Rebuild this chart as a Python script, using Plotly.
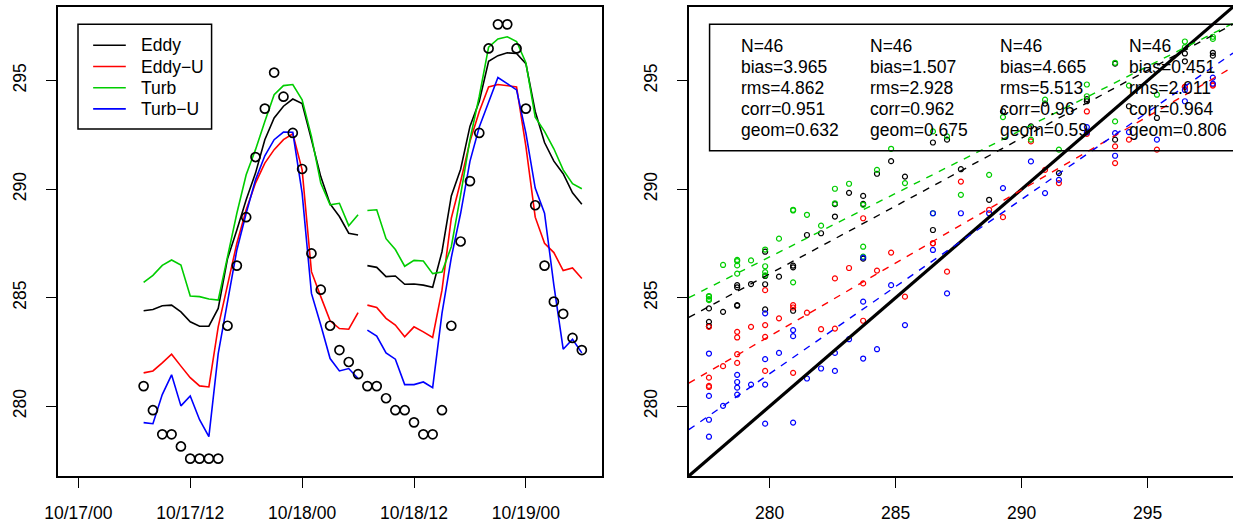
import numpy as np
import plotly.graph_objects as go
from datetime import datetime, timedelta

W, H = 1233, 525
FONT = "Liberation Sans"
FS = 17.5

# ---------------- data ----------------
start = datetime(2000, 10, 17, 7)
times = [start + timedelta(hours=h) for h in range(48)]
gap_index = 24  # model lines break between 10/18 06:00 and 07:00

obs = [280.93, 279.82, 278.71, 278.71, 278.15, 277.59, 277.59, 277.59, 277.59, 283.71,
       286.48, 288.71, 291.48, 293.71, 295.37, 294.26, 292.59, 290.93, 287.04, 285.37,
       283.71, 282.59, 282.04, 281.48, 280.93, 280.93, 280.37, 279.82, 279.82, 279.26,
       278.71, 278.71, 279.82, 283.71, 287.59, 290.37, 292.59, 296.48, 297.59, 297.59,
       296.48, 293.71, 289.26, 286.48, 284.82, 284.26, 283.15, 282.59]

eddy = [284.40, 284.46, 284.63, 284.66, 284.35, 283.89, 283.69, 283.69, 284.51, 286.80,
        288.12, 289.51, 290.74, 292.28, 293.28, 293.82, 294.15, 293.94, 292.28, 290.58,
        289.32, 288.74, 287.97, 287.89, 286.48, 286.40, 285.97, 286.00, 285.62, 285.63,
        285.58, 285.48, 287.12, 289.69, 290.92, 292.89, 294.05, 295.89, 296.15, 296.28,
        296.25, 295.78, 293.58, 292.15, 291.29, 290.71, 289.83, 289.31]

eddy_u = [281.54, 281.63, 282.00, 282.40, 281.85, 281.32, 280.94, 280.89, 283.66, 285.66,
          287.51, 289.05, 290.28, 291.20, 291.82, 292.28, 292.55, 290.89, 286.20, 285.05,
          283.94, 283.58, 283.55, 284.31, 284.66, 284.55, 284.05, 283.74, 283.20, 283.66,
          283.43, 283.17, 285.35, 288.66, 290.35, 292.20, 293.58, 294.71, 294.82, 294.77,
          294.71, 291.97, 288.71, 287.51, 287.08, 286.25, 286.37, 285.89]

turb = [285.71, 286.03, 286.49, 286.74, 286.51, 285.08, 285.05, 284.94, 284.89, 286.89,
        288.89, 290.66, 291.82, 293.12, 294.35, 294.77, 294.82, 294.12, 292.43, 290.28,
        289.28, 289.35, 288.32, 288.82, 289.02, 289.05, 287.72, 287.22, 286.45, 286.72,
        286.69, 286.11, 286.18, 287.35, 289.74, 292.28, 294.28, 296.54, 296.92, 297.02,
        296.80, 295.82, 293.32, 292.66, 291.86, 290.89, 290.25, 290.02]

turb_u = [279.25, 279.20, 280.54, 281.45, 280.02, 280.48, 279.38, 278.60, 282.43, 284.82,
          287.20, 288.89, 290.43, 291.54, 292.28, 292.63, 292.62, 289.82, 285.20, 283.74,
          282.20, 281.63, 281.74, 281.28, 283.51, 283.23, 282.46, 282.17, 281.00, 281.00,
          281.12, 280.86, 284.28, 286.85, 288.89, 291.28, 292.86, 294.05, 295.14, 294.86,
          294.57, 292.58, 290.05, 288.89, 285.58, 282.63, 283.09, 282.46]

series_names = ["Eddy", "Eddy\u2212U", "Turb", "Turb\u2212U"]
series_values = [eddy, eddy_u, turb, turb_u]
series_colors = ["#000000", "#FF0000", "#00CD00", "#0000FF"]

# dashed fit lines (model = intercept + slope * obs)
fit_intercept = [111.10, 94.51, 123.08, 56.66]
fit_slope = [0.625, 0.674, 0.585, 0.803]

stat_N = ["46", "46", "46", "46"]
stat_bias = ["3.965", "1.507", "4.665", "0.451"]
stat_rms = ["4.862", "2.928", "5.513", "2.011"]
stat_corr = ["0.951", "0.962", "0.96", "0.964"]
stat_geom = ["0.632", "0.675", "0.59", "0.806"]

time_tick_vals = [datetime(2000, 10, 17, 0), datetime(2000, 10, 17, 12), datetime(2000, 10, 18, 0),
                  datetime(2000, 10, 18, 12), datetime(2000, 10, 19, 0)]
time_tick_text = ["10/17/00", "10/17/12", "10/18/00", "10/18/12", "10/19/00"]
time_range = [datetime(2000, 10, 16, 21, 46), datetime(2000, 10, 19, 8, 8)]
temp_ticks = [280, 285, 290, 295]
temp_range = [276.79, 298.39]

# ---------------- layout helpers ----------------
def xp(px):
    return px / W

def yp(py):
    return 1 - py / H

fig = go.Figure()

# ---- left panel: time series ----
for name, vals, col in zip(series_names, series_values, series_colors):
    xs = times[:gap_index] + [times[gap_index - 1] + timedelta(minutes=30)] + times[gap_index:]
    ys = vals[:gap_index] + [None] + vals[gap_index:]
    fig.add_trace(go.Scatter(x=xs, y=ys, mode="lines", name=name,
                             line=dict(color=col, width=1.6), showlegend=False,
                             xaxis="x", yaxis="y"))
fig.add_trace(go.Scatter(x=times, y=obs, mode="markers", showlegend=False,
                         marker=dict(symbol="circle-open", size=9, color="black",
                                     line=dict(width=1.7, color="black")),
                         xaxis="x", yaxis="y"))

# ---- right panel: scatter ----
for vals, col in zip(series_values, series_colors):
    fig.add_trace(go.Scatter(x=obs, y=vals, mode="markers", showlegend=False,
                             marker=dict(symbol="circle-open", size=5, color=col,
                                         line=dict(width=1.2, color=col)),
                             xaxis="x2", yaxis="y2"))
fig.add_trace(go.Scatter(x=temp_range, y=temp_range, mode="lines", showlegend=False,
                         line=dict(color="black", width=3.2), xaxis="x2", yaxis="y2"))
for a, b, col in zip(fit_intercept, fit_slope, series_colors):
    xr = np.array(temp_range)
    fig.add_trace(go.Scatter(x=xr, y=a + b * xr, mode="lines", showlegend=False,
                             line=dict(color=col, width=1.4, dash="7px,7px"),
                             xaxis="x2", yaxis="y2"))

axis_common = dict(showgrid=False, zeroline=False, showline=True, linecolor="black",
                   linewidth=1.5, ticks="outside", ticklen=10, tickwidth=1.3,
                   tickcolor="black", tickfont=dict(family=FONT, size=FS, color="black"))

ydom = [yp(476), yp(7)]
fig.update_layout(
    width=W, height=H, margin=dict(l=0, r=0, t=0, b=0),
    paper_bgcolor="white", plot_bgcolor="white",
    xaxis=dict(domain=[xp(45), xp(595)], type="date", range=time_range,
               tickmode="array", tickvals=time_tick_vals, ticktext=time_tick_text,
               mirror=True, anchor="y", ticklabelstandoff=10, **axis_common),
    yaxis=dict(domain=ydom, range=temp_range, tickmode="array", tickvals=temp_ticks,
               tickangle=-90, mirror=True, anchor="x", ticklabelstandoff=13, **axis_common),
    xaxis2=dict(domain=[xp(683), 1.0], range=temp_range, tickmode="array",
                tickvals=temp_ticks, mirror=True, anchor="y2", ticklabelstandoff=10,
                **axis_common),
    yaxis2=dict(domain=ydom, range=temp_range, tickmode="array", tickvals=temp_ticks,
                tickangle=-90, mirror=False, anchor="x2", ticklabelstandoff=13, **axis_common),
)

shapes = []
annotations = []

# legend box (left panel)
shapes.append(dict(type="rect", xref="paper", yref="paper", x0=xp(65.7), x1=xp(200.7),
                   y0=yp(129), y1=yp(24.3), line=dict(color="black", width=1.5),
                   fillcolor="white", layer="above"))
leg_rows = [45.3, 66.5, 87.7, 108.9]
for name, col, ry in zip(series_names, series_colors, leg_rows):
    shapes.append(dict(type="line", xref="paper", yref="paper", x0=xp(81), x1=xp(114),
                       y0=yp(ry), y1=yp(ry), line=dict(color=col, width=1.6), layer="above"))
    annotations.append(dict(text=name, xref="paper", yref="paper", x=xp(127), y=yp(ry),
                            xanchor="left", yanchor="middle", showarrow=False,
                            font=dict(family=FONT, size=FS, color="black")))

# stats box (right panel)
shapes.append(dict(type="rect", xref="paper", yref="paper", x0=xp(704), x1=xp(1240),
                   y0=yp(150.7), y1=yp(24.3), line=dict(color="black", width=1.5),
                   layer="above"))
col_x = [734, 864.6, 996, 1126]
row_y = [46, 67, 88, 109, 130]
for j, cx in enumerate(col_x):
    lines = ["N=" + stat_N[j], "bias=" + stat_bias[j], "rms=" + stat_rms[j],
             "corr=" + stat_corr[j], "geom=" + stat_geom[j]]
    for txt, ry in zip(lines, row_y):
        annotations.append(dict(text=txt, xref="paper", yref="paper", x=xp(cx), y=yp(ry),
                                xanchor="left", yanchor="middle", showarrow=False,
                                font=dict(family=FONT, size=FS, color="black")))

fig.update_layout(shapes=shapes, annotations=annotations)
fig.write_html("out.html")
